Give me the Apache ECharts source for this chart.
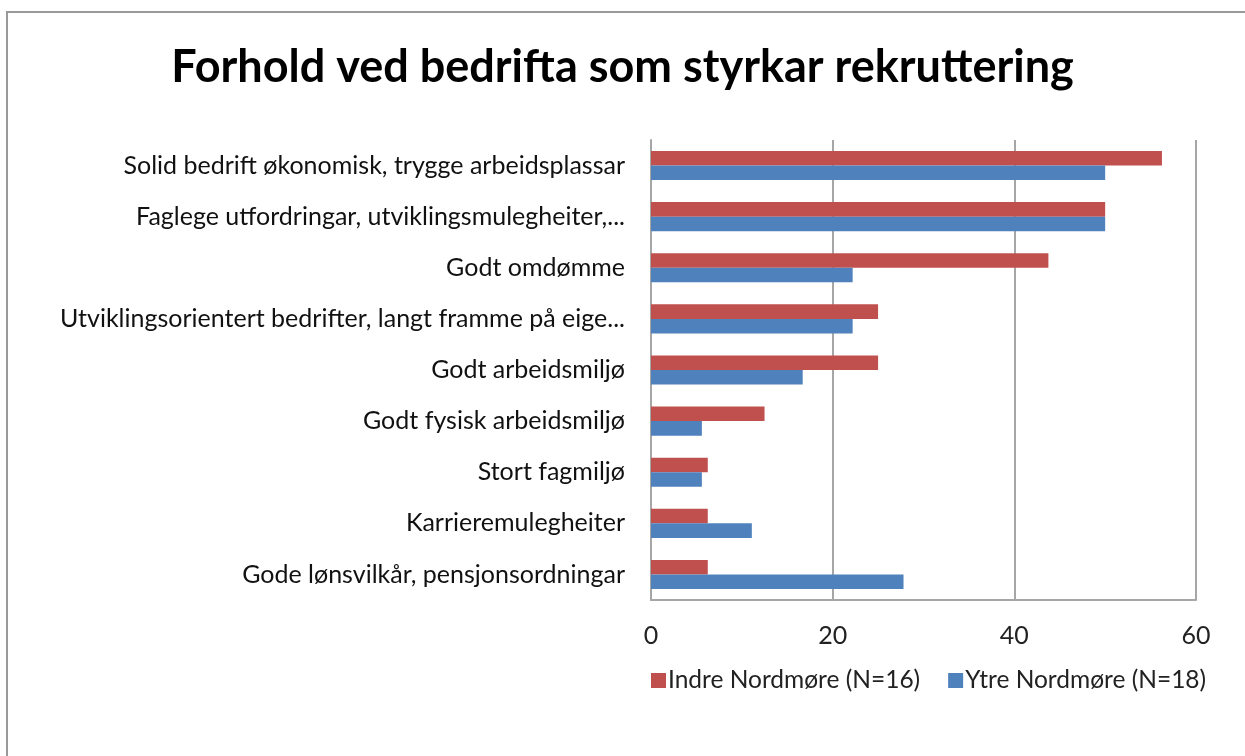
<!DOCTYPE html>
<html><head><meta charset="utf-8">
<script src="https://cdn.jsdelivr.net/npm/echarts@6/dist/echarts.min.js"></script>
<style>html,body{margin:0;padding:0;background:#fff}#c{width:1245px;height:756px}</style>
</head><body><div id="c"></div>
<script>
const titleText = 'Forhold ved bedrifta som styrkar rekruttering';
const categories = [
  'Solid bedrift økonomisk, trygge arbeidsplassar',
  'Faglege utfordringar, utviklingsmulegheiter,...',
  'Godt omdømme',
  'Utviklingsorientert bedrifter, langt framme på eige...',
  'Godt arbeidsmiljø',
  'Godt fysisk arbeidsmiljø',
  'Stort fagmiljø',
  'Karrieremulegheiter',
  'Gode lønsvilkår, pensjonsordningar'
];
const seriesNames = ['Indre Nordmøre (N=16)', 'Ytre Nordmøre (N=18)'];
const indre = [56.25, 50, 43.75, 25, 25, 12.5, 6.25, 6.25, 6.25];
const ytre = [50, 50, 22.2, 22.2, 16.7, 5.6, 5.6, 11.1, 27.8];
const xTicks = [0, 20, 40, 60];

const FONT = 'Lato';
const chart = echarts.init(document.getElementById('c'), null, {renderer: 'canvas'});
chart.setOption({
  backgroundColor: '#fff',
  animation: false,
  title: {
    text: titleText, left: 'center', top: 40,
    textStyle: {fontFamily: FONT, fontWeight: 'bold', fontSize: 45, color: '#000'}
  },
  legend: {
    data: seriesNames, left: 646, top: 663, itemWidth: 15, itemHeight: 15, itemGap: 28,
    icon: 'rect',
    textStyle: {fontFamily: FONT, fontSize: 24.5, color: '#222', padding: [0,0,0,-3]}
  },
  grid: {left: 651, right: 49, top: 140, bottom: 156, containLabel: false},
  xAxis: {
    type: 'value', min: 0, max: 60, interval: 20,
    axisLine: {show: true, lineStyle: {color: '#a6a6a6', width: 2}},
    axisTick: {show: false},
    splitLine: {show: true, lineStyle: {color: '#a6a6a6', width: 2}},
    axisLabel: {fontFamily: FONT, fontSize: 25, color: '#222', margin: 23,
      formatter: v => xTicks.includes(v) ? String(v) : ''}
  },
  yAxis: {
    type: 'category', data: categories, inverse: true,
    axisLine: {show: true, lineStyle: {color: '#a6a6a6', width: 2}},
    axisTick: {show: false},
    axisLabel: {fontFamily: FONT, fontSize: 25, color: '#111', margin: 26}
  },
  series: [
    {name: seriesNames[0], type: 'bar', data: indre, itemStyle: {color: '#C0504D'}, barGap: '0%', barCategoryGap: '43%'},
    {name: seriesNames[1], type: 'bar', data: ytre, itemStyle: {color: '#4F81BD'}, barGap: '0%', barCategoryGap: '43%'}
  ],
  graphic: [{
    type: 'polyline', shape: {points: [[7, 760], [7, 12], [1250, 12]]},
    style: {stroke: '#999', lineWidth: 2, fill: null}
  }]
});
</script></body></html>
